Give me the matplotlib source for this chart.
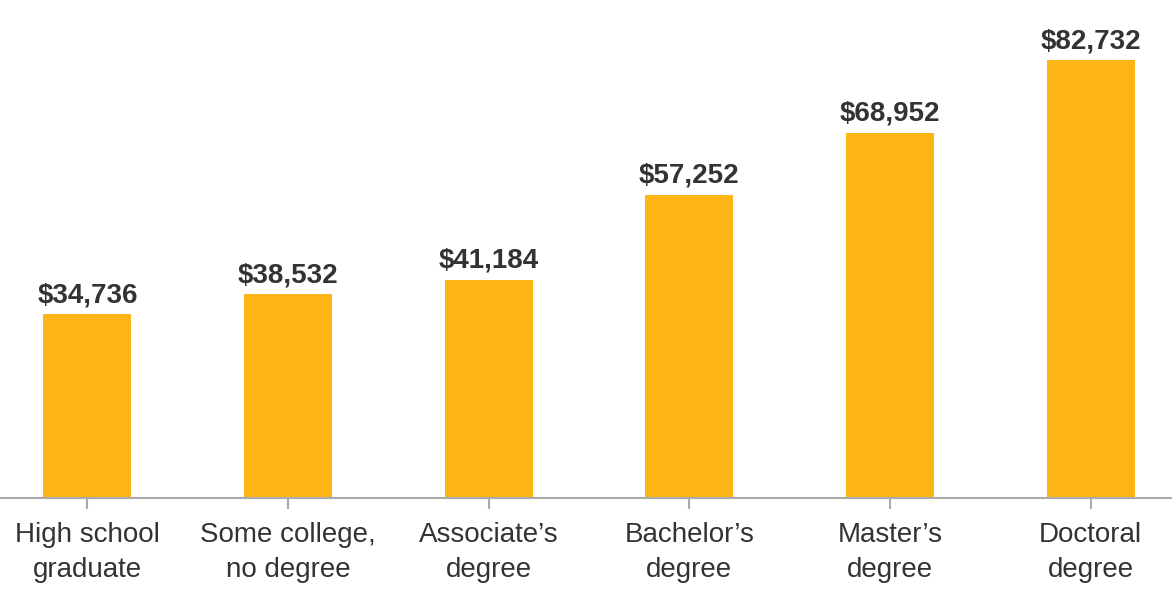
import matplotlib
matplotlib.use("Agg")
import matplotlib.pyplot as plt

categories = ["High school\ngraduate", "Some college,\nno degree", "Associate\u2019s\ndegree",
              "Bachelor\u2019s\ndegree", "Master\u2019s\ndegree", "Doctoral\ndegree"]
values = [34736, 38532, 41184, 57252, 68952, 82732]

plt.rcParams['font.family'] = ['Liberation Sans', 'DejaVu Sans']

fig = plt.figure(figsize=(11.72, 6.02), dpi=100)
ax = fig.add_axes([0, 104/602, 1, 1 - 104/602])

x = list(range(len(values)))
ax.bar(x, values, width=0.439, color="#FDB515", zorder=2)
for xi, v in zip(x, values):
    ax.annotate(f"${v:,}", (xi, v), xytext=(0, 4.3), textcoords="offset points",
                ha="center", va="bottom", fontsize=20, fontweight="bold", color="#333333")

ax.set_xlim(-0.4358, 5.4057)
ax.set_ylim(0, 82732 * 498 / 438)
ax.set_xticks(x)
ax.set_xticklabels(categories, fontsize=20, color="#333333", linespacing=1.45)
ax.tick_params(axis="x", length=8, width=1.5, color="#aaaaaa", pad=9.5)
ax.set_yticks([])
for s in ["top", "right", "left"]:
    ax.spines[s].set_visible(False)
ax.spines["bottom"].set_color("#aaaaaa")
ax.spines["bottom"].set_linewidth(1.5)

fig.savefig("out.png", dpi=100)
